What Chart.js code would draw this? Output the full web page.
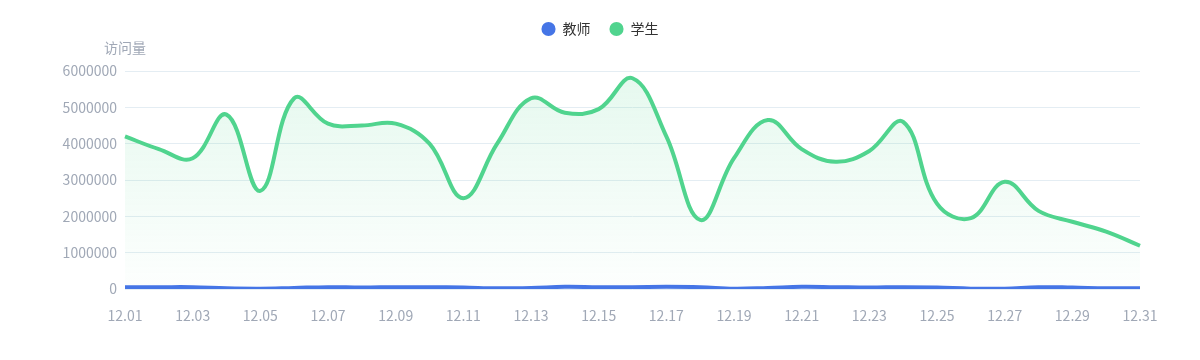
<!DOCTYPE html>
<html lang="zh">
<head>
<meta charset="UTF-8">
<title>访问量</title>
<script src="https://cdn.jsdelivr.net/npm/chart.js@4/dist/chart.umd.min.js"></script>
<style>
  html, body { margin: 0; padding: 0; background: #fff; }
  #wrap { width: 1200px; height: 360px; }
</style>
</head>
<body>
<div id="wrap"><canvas id="myChart" width="1200" height="360"></canvas></div>
<script>
  const days = ['12.01','12.02','12.03','12.04','12.05','12.06','12.07','12.08','12.09','12.10',
                '12.11','12.12','12.13','12.14','12.15','12.16','12.17','12.18','12.19','12.20',
                '12.21','12.22','12.23','12.24','12.25','12.26','12.27','12.28','12.29','12.30','12.31'];
  const teachers = [50000, 50000, 50000, 20000, 10000, 30000, 50000, 40000, 50000, 50000,
                    40000, 20000, 30000, 60000, 50000, 50000, 60000, 50000, 10000, 30000,
                    60000, 50000, 40000, 50000, 40000, 10000, 10000, 50000, 40000, 20000, 20000];
  const students = [4200000, 3850000, 3600000, 4800000, 2700000, 5250000, 4550000, 4500000, 4550000, 4000000,
                    2500000, 4000000, 5250000, 4850000, 4950000, 5800000, 4200000, 1900000, 3600000, 4650000,
                    3850000, 3500000, 3800000, 4600000, 2350000, 1950000, 2950000, 2150000, 1850000, 1580000, 1190000];
  const yTicks = [0, 1000000, 2000000, 3000000, 4000000, 5000000, 6000000];

  const blue = '#4575e6';
  const green = '#50d48e';
  const textGrey = '#a0a8b6';
  const fontFam = '"Noto Sans CJK SC", sans-serif';

  // y轴名称 "访问量"
  const axisName = {
    id: 'axisName',
    afterDraw(chart) {
      const c = chart.ctx;
      c.save();
      c.font = '14px ' + fontFam;
      c.fillStyle = textGrey;
      c.textAlign = 'center';
      c.textBaseline = 'middle';
      c.fillText('访问量', chart.chartArea.left, 48);
      c.restore();
    }
  };

  const ctx = document.getElementById('myChart').getContext('2d');
  new Chart(ctx, {
    type: 'line',
    data: {
      labels: days,
      datasets: [{
        label: '教师',
        data: teachers,
        borderColor: blue,
        backgroundColor: blue,
        borderWidth: 4,
        pointRadius: 0,
        tension: 0.4,
        fill: false
      }, {
        label: '学生',
        data: students,
        borderColor: green,
        borderWidth: 4,
        pointRadius: 0,
        tension: 0.4,
        fill: 'origin',
        backgroundColor: function(context) {
          const area = context.chart.chartArea;
          if (!area) return 'rgba(80,212,142,0.1)';
          const g = context.chart.ctx.createLinearGradient(0, area.top, 0, area.bottom);
          g.addColorStop(0, 'rgba(80,212,142,0.15)');
          g.addColorStop(1, 'rgba(80,212,142,0.01)');
          return g;
        }
      }]
    },
    options: {
      responsive: false,
      animation: false,
      layout: { padding: { left: 0, right: 0, top: 3, bottom: 0 } },
      plugins: {
        tooltip: { enabled: false },
        // empty title used only as a spacer under the legend
        title: {
          display: true,
          text: '',
          weight: 500,
          font: { size: 10, lineHeight: 1 },
          padding: { top: 0, bottom: 15 }
        },
        legend: {
          position: 'top',
          labels: {
            usePointStyle: true,
            pointStyle: 'circle',
            boxWidth: 20,
            boxHeight: 10,
            padding: 19,
            color: '#333',
            font: { size: 14, family: fontFam },
            generateLabels(chart) {
              return chart.data.datasets.map((ds, i) => ({
                text: ds.label,
                fillStyle: ds.borderColor,
                strokeStyle: ds.borderColor,
                lineWidth: 0,
                pointStyle: 'circle',
                fontColor: '#333',
                hidden: !chart.isDatasetVisible(i),
                datasetIndex: i
              }));
            }
          }
        }
      },
      scales: {
        x: {
          grid: { display: false, drawTicks: false },
          border: { display: false },
          ticks: {
            autoSkip: false,
            maxRotation: 0,
            padding: 18,
            color: textGrey,
            font: { size: 14, family: fontFam },
            callback: function(v, i) { return i % 2 === 0 ? days[i] : ''; }
          },
          afterFit(scale) { scale.height = 71; }
        },
        y: {
          min: 0,
          max: 6000000,
          afterBuildTicks(scale) { scale.ticks = yTicks.map(v => ({ value: v })); },
          grid: { color: '#e4edf3', drawTicks: false, lineWidth: 1 },
          border: { display: false },
          ticks: {
            padding: 8,
            color: textGrey,
            font: { size: 14, family: fontFam },
            callback: function(v) { return String(v); }
          },
          afterFit(scale) { scale.width = 125; }
        },
        // empty right axis keeps a 60px margin so the legend stays centred
        yr: {
          position: 'right',
          display: true,
          grid: { display: false, drawTicks: false },
          border: { display: false },
          ticks: { display: false },
          afterFit(scale) { scale.width = 60; }
        }
      }
    },
    plugins: [axisName]
  });
</script>
</body>
</html>
